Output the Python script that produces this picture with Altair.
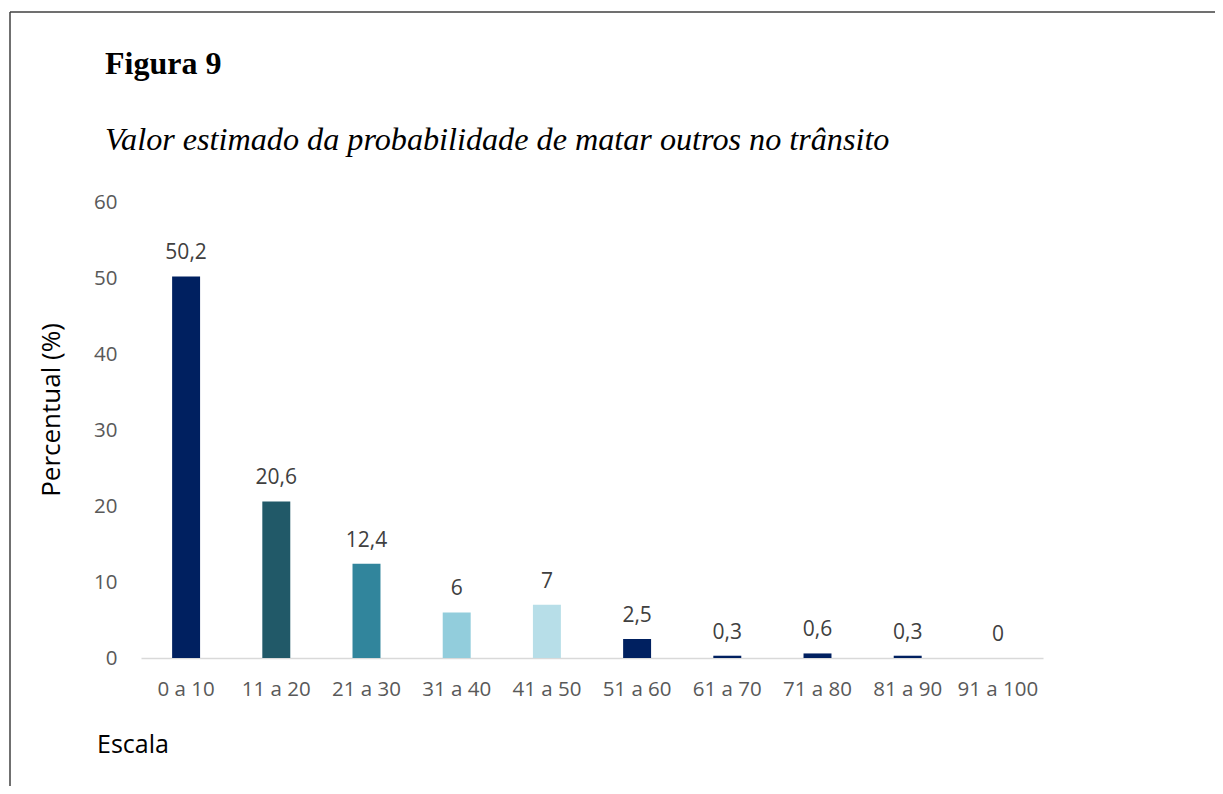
import altair as alt
import pandas as pd

categories = ["0 a 10", "11 a 20", "21 a 30", "31 a 40", "41 a 50",
              "51 a 60", "61 a 70", "71 a 80", "81 a 90", "91 a 100"]
values = [50.2, 20.6, 12.4, 6, 7, 2.5, 0.3, 0.6, 0.3, 0]
bar_colors = ["#002060", "#215968", "#31859C", "#92CDDC", "#B7DEE8",
              "#002060", "#002060", "#002060", "#002060", "#002060"]
y_ticks = [0, 10, 20, 30, 40, 50, 60]

fig_label = "Figura 9"
fig_title = "Valor estimado da probabilidade de matar outros no trânsito"
x_title = "Escala"
y_title = "Percentual (%)"

df = pd.DataFrame({
    "cat": categories,
    "val": values,
    "lab": [f"{v:g}".replace(".", ",") for v in values],
})
one = pd.DataFrame({"k": [0]})

SANS = "Open Sans"
SERIF = "Liberation Serif"

x_enc = alt.X("cat:N", sort=categories,
              scale=alt.Scale(paddingInner=0.69, paddingOuter=0.345),
              axis=alt.Axis(title=None, labelAngle=0, labelFont=SANS, labelFontSize=20.5,
                            labelColor="#595959", labelPadding=21, ticks=False,
                            domainColor="#D9D9D9", domainWidth=1.5))
y_enc = alt.Y("val:Q", scale=alt.Scale(domain=[0, 60], nice=False),
              axis=alt.Axis(title=None, values=y_ticks, grid=False, domain=False, ticks=False,
                            labelFont=SANS, labelFontSize=20.5, labelColor="#595959",
                            labelPadding=24))

bars = alt.Chart(df).mark_bar().encode(
    x=x_enc, y=y_enc,
    color=alt.Color("cat:N", sort=categories,
                    scale=alt.Scale(domain=categories, range=bar_colors), legend=None),
)

labels = alt.Chart(df).mark_text(font=SANS, fontSize=21, color="#404040",
                                 baseline="alphabetic", align="center", dy=-17).encode(
    x=alt.X("cat:N", sort=categories), y="val:Q", text="lab:N")

t1 = alt.Chart(one).mark_text(text=fig_label, font=SERIF, fontSize=32, fontWeight="bold",
                              color="black", align="left", baseline="alphabetic").encode(
    x=alt.value(-36), y=alt.value(-128))
t2 = alt.Chart(one).mark_text(text=fig_title, font=SERIF, fontSize=32.2, fontStyle="italic",
                              color="black", align="left", baseline="alphabetic").encode(
    x=alt.value(-36), y=alt.value(-52))
t3 = alt.Chart(one).mark_text(text=x_title, font=SANS, fontSize=25,
                              color="black", align="left", baseline="alphabetic").encode(
    x=alt.value(-44), y=alt.value(551))
t4 = alt.Chart(one).mark_text(text=y_title, font=SANS, fontSize=26, angle=270,
                              color="black", align="center", baseline="middle").encode(
    x=alt.value(-89), y=alt.value(208))

frame_left = alt.Chart(one).mark_rule(color="#404040", strokeWidth=1.5).encode(
    x=alt.value(-131), y=alt.value(-190), y2=alt.value(600))
frame_top = alt.Chart(one).mark_rule(color="#404040", strokeWidth=1.5).encode(
    x=alt.value(-131), x2=alt.value(1100), y=alt.value(-190))

chart = alt.layer(bars, labels, t1, t2, t3, t4, frame_left, frame_top).properties(
    width=902, height=456,
    background="white",
    autosize=alt.AutoSizeParams(type="none"),
    padding={"left": 133, "top": 194, "right": 172, "bottom": 128},
).configure_view(strokeWidth=0, stroke=None)

chart.save("out.html", embed_options={"renderer": "svg", "actions": False})
